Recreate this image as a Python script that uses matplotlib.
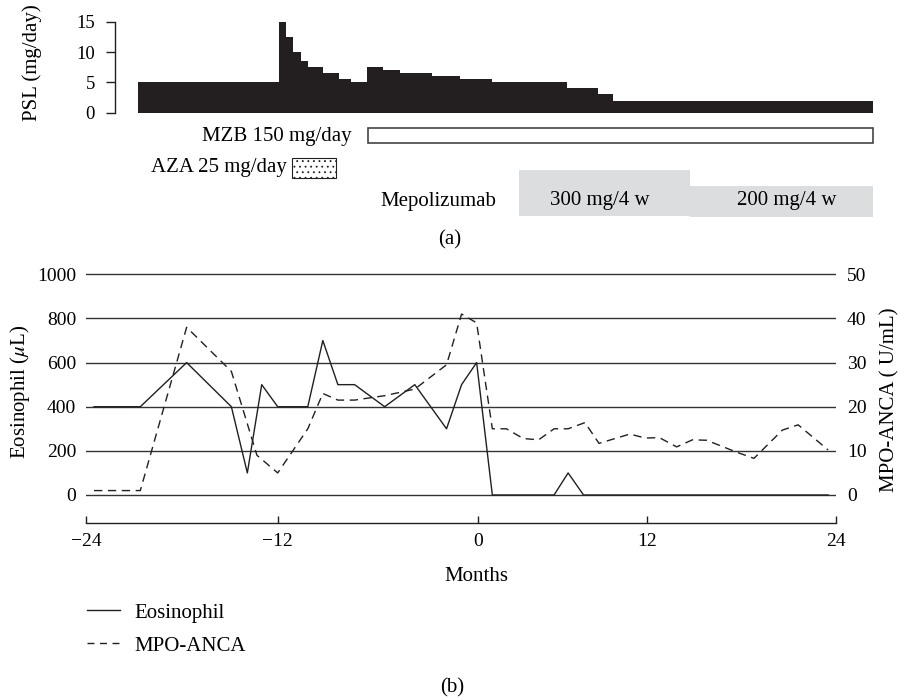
import numpy as np
import matplotlib
matplotlib.use("Agg")
import matplotlib.pyplot as plt
from matplotlib.patches import Rectangle
from matplotlib.lines import Line2D

plt.rcParams['font.family'] = ['Liberation Serif', 'DejaVu Serif']
plt.rcParams['mathtext.fontset'] = 'stix'
plt.rcParams['hatch.linewidth'] = 0.6

# ---------------- data ----------------
# (a) PSL dose, step function over relative time (0..100)
psl_edges = [0, 19.16, 20.11, 21.11, 22.11, 23.15, 25.11, 27.29, 28.92, 31.10,
             33.28, 35.63, 39.95, 43.80, 48.12, 58.33, 62.55, 64.68, 100]
psl_values = [5, 15, 12.5, 10, 8.5, 7.5, 6.5, 5.5, 5, 7.5, 7, 6.5, 6, 5.5, 5, 4, 3, 2]
psl_ticks = [0, 5, 10, 15]

mzb_span = (31.24, 100)
aza_span = (20.96, 26.87)
mepo_300_span = (51.84, 75.12)
mepo_200_span = (75.12, 100)

# (b) Eosinophil and MPO-ANCA vs months
eos_month = [-23.5, -20.6, -17.7, -14.9, -13.9, -13.0, -12.0, -10.2, -9.3, -8.4, -7.4,
             -5.6, -3.8, -1.9, -1.0, -0.1, 1.0, 5.4, 6.4, 7.5, 23.5]
eos_value = [400, 400, 600, 400, 100, 500, 400, 400, 700, 500, 500,
             400, 500, 300, 500, 600, 0, 0, 100, 0, 0]

mpo_month = [-23.5, -20.6, -17.7, -14.9, -13.3, -12.0, -10.2, -9.3, -8.4, -7.4, -5.6,
             -3.8, -1.9, -1.0, -0.1, 1.0, 2.0, 3.2, 4.3, 5.4, 6.4, 7.6, 8.6, 10.8,
             11.9, 12.8, 13.9, 14.9, 15.8, 17.7, 18.8, 20.6, 21.6, 23.5]
mpo_value = [1, 1, 38, 28, 9, 5, 15, 23, 21.5, 21.5, 22.5,
             24, 29.5, 41, 39, 15, 15, 12.8, 12.5, 15, 15, 16.4, 11.7, 13.8,
             12.9, 13, 10.9, 12.5, 12.4, 9.7, 8.3, 14.7, 15.9, 10.2]

month_ticks = [-24, -12, 0, 12, 24]
eos_ticks = [0, 200, 400, 600, 800, 1000]
mpo_ticks = [0, 10, 20, 30, 40, 50]

# ---------------- figure ----------------
W, H = 900, 699
fig = plt.figure(figsize=(W / 100, H / 100), dpi=100)
BLACK = '#231f20'
GRAY = '#dcdddf'
FS = 15
TFS = 14


def fx(px):
    return px / W


def fy(py):
    return 1 - py / H


# ----- panel (a) -----
ax1 = fig.add_axes([fx(115), fy(220), (876.4 - 115) / W, (220 - 18) / H])
ax1.stairs(psl_values, psl_edges, fill=True, color=BLACK, baseline=0)
ax1.set_xlim(-3.17, 100.5)
ax1.set_ylim(-17.69, 15.61)
for s in ['top', 'right', 'bottom']:
    ax1.spines[s].set_visible(False)
ax1.spines['left'].set_bounds(0, 15)
ax1.spines['left'].set_linewidth(1.0)
ax1.spines['left'].set_color(BLACK)
ax1.set_xticks([])
ax1.set_yticks(psl_ticks)
ax1.tick_params(axis='y', length=6.5, width=1.0, pad=8, labelsize=13.5, color=BLACK)

# MZB
ax1.add_patch(Rectangle((mzb_span[0], -5.04), mzb_span[1] - mzb_span[0], 2.57,
                        facecolor='white', edgecolor='#444444', lw=1.2, clip_on=False))
ax1.text(29.1, -3.96, 'MZB 150 mg/day', ha='right', va='center', fontsize=FS)
# AZA
ax1.add_patch(Rectangle((aza_span[0], -10.81), aza_span[1] - aza_span[0], 3.39,
                        facecolor='white', edgecolor=BLACK, lw=0.8, hatch='...',
                        clip_on=False))
ax1.text(20.2, -9.11, 'AZA 25 mg/day', ha='right', va='center', fontsize=FS)
# Mepolizumab
ax1.add_patch(Rectangle((mepo_300_span[0], -16.98), mepo_300_span[1] - mepo_300_span[0],
                        7.54, facecolor=GRAY, edgecolor='none', clip_on=False))
ax1.add_patch(Rectangle((mepo_200_span[0], -17.14), mepo_200_span[1] - mepo_200_span[0],
                        5.06, facecolor=GRAY, edgecolor='none', clip_on=False))
ax1.text(40.9, -14.67, 'Mepolizumab', ha='center', va='center', fontsize=FS)
ax1.text(62.8, -14.55, '300 mg/4 w', ha='center', va='center', fontsize=FS)
ax1.text(88.3, -14.55, '200 mg/4 w', ha='center', va='center', fontsize=FS)

fig.text(fx(32), fy(62.6), 'PSL (mg/day)', rotation=90, ha='center', va='center',
         fontsize=FS)
fig.text(fx(450), fy(240), '(a)', ha='center', va='center', fontsize=FS)

# ----- panel (b) -----
tick_px = [0, 191.7, 392.3, 560.7, 750]


def fwd(m):
    return np.interp(m, month_ticks, tick_px)


def inv(p):
    return np.interp(p, tick_px, month_ticks)


ax2 = fig.add_axes([fx(86), fy(498.3), 750 / W, (498.3 - 271.0) / H])
ax2.set_xscale('function', functions=(fwd, inv))
ax2.set_xlim(-24, 24)
ax2.set_ylim(-15, 1015)
for v in eos_ticks:
    ax2.axhline(v, color='#333333', lw=1.0, zorder=1)
ax2.plot(eos_month, eos_value, color=BLACK, lw=1.0, zorder=3)
ax2.set_yticks(eos_ticks)
ax2.set_xticks(month_ticks)
ax2.tick_params(axis='y', length=0, pad=7, labelsize=TFS)
ax2.tick_params(axis='x', direction='in', length=5, width=1.0, pad=7, labelsize=TFS,
                color=BLACK)
for s in ['top', 'right', 'left']:
    ax2.spines[s].set_visible(False)
ax2.spines['bottom'].set_position(('outward', 18))
ax2.spines['bottom'].set_linewidth(1.0)
ax2.spines['bottom'].set_color(BLACK)

ax3 = ax2.twinx()
ax3.set_ylim(-0.75, 50.75)
ax3.plot(mpo_month, mpo_value, color=BLACK, lw=1.0, ls=(0, (6, 4)), zorder=3)
ax3.set_yticks(mpo_ticks)
ax3.tick_params(axis='y', length=0, pad=8, labelsize=TFS)
for s in ax3.spines.values():
    s.set_visible(False)

fig.text(fx(20), fy(392), 'Eosinophil ($\\mu$L)', rotation=90, ha='center',
         va='center', fontsize=FS)
fig.text(fx(890), fy(400), 'MPO-ANCA ( U/mL)', rotation=90, ha='center',
         va='center', fontsize=FS)
fig.text(fx(476), fy(576.7), 'Months', ha='center', va='center', fontsize=FS)

handles = [Line2D([], [], color=BLACK, lw=1.0),
           Line2D([], [], color=BLACK, lw=1.0, ls=(0, (5, 4)))]
fig.legend(handles, ['Eosinophil', 'MPO-ANCA'], loc='upper left',
           bbox_to_anchor=(fx(86.7), fy(603)), frameon=False, fontsize=FS,
           borderpad=0, borderaxespad=0, handlelength=1.6, handletextpad=0.7,
           labelspacing=0.65)
fig.text(fx(452), fy(688), '(b)', ha='center', va='center', fontsize=FS)

fig.savefig('out.png', dpi=100)
